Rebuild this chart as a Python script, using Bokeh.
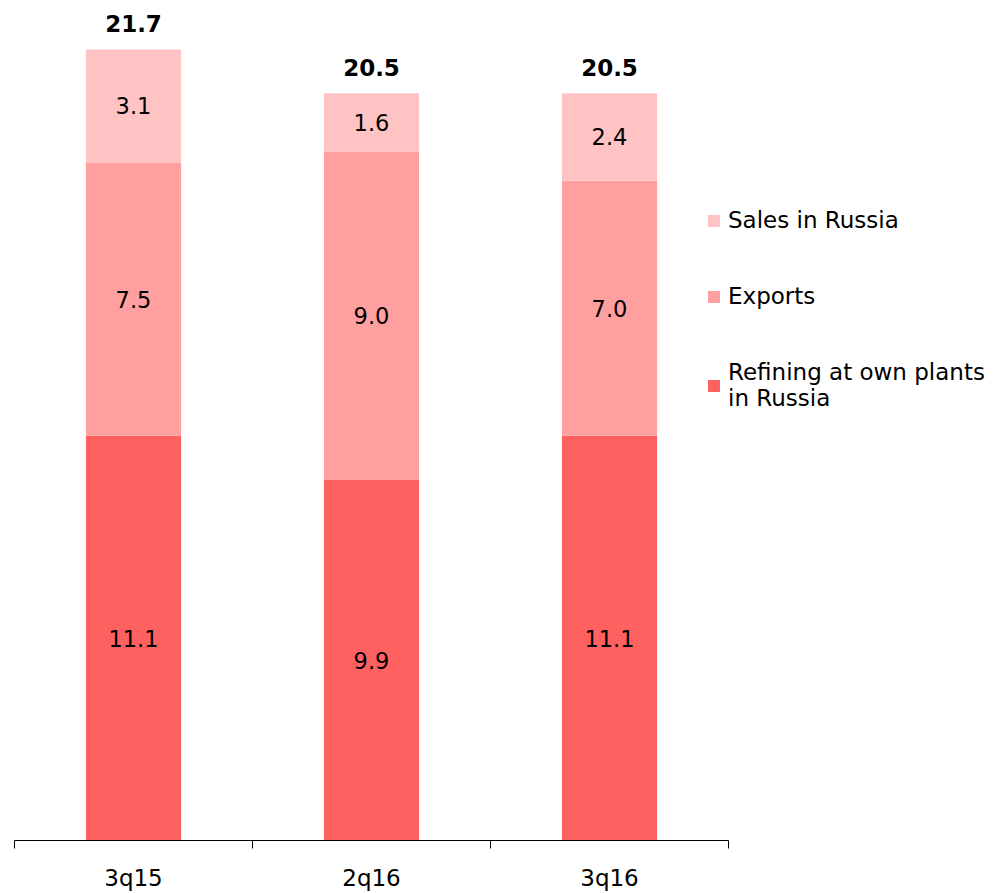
from bokeh.plotting import figure
from bokeh.models import ColumnDataSource, Range1d, FixedTicker, Legend, LegendItem, LinearAxis
from bokeh.core.properties import value
from bokeh.embed import file_html
from bokeh.resources import INLINE

categories = ["3q15", "2q16", "3q16"]
refining = [11.1, 9.9, 11.1]
exports = [7.5, 9.0, 7.0]
sales = [3.1, 1.6, 2.4]
totals = [21.7, 20.5, 20.5]
legend_labels = ["Sales in Russia", "Exports", "Refining at own plants\nin Russia"]
colors = {"refining": "#FF6161", "exports": "#FF9F9F", "sales": "#FFC3C3"}

FONT = "DejaVu Sans"
xs = [i + 0.5 for i in range(len(categories))]

b1 = [0.0] * 3
t1 = refining
b2 = t1
t2 = [a + b for a, b in zip(t1, exports)]
b3 = t2
t3 = [a + b for a, b in zip(t2, sales)]

src = ColumnDataSource(dict(
    x=xs, b1=b1, t1=t1, b2=b2, t2=t2, b3=b3, t3=t3,
    m1=[(a + b) / 2 for a, b in zip(b1, t1)],
    m2=[(a + b) / 2 for a, b in zip(b2, t2)],
    m3=[(a + b) / 2 for a, b in zip(b3, t3)],
    l1=[f"{v:.1f}" for v in refining],
    l2=[f"{v:.1f}" for v in exports],
    l3=[f"{v:.1f}" for v in sales],
    tot=totals,
    ltot=[f"{v:.1f}" for v in totals],
))

p = figure(width=995, height=893, x_range=Range1d(0, 981 / 238), y_range=Range1d(0, 841 / 36.5),
           output_backend="svg", toolbar_location=None,
           x_axis_location=None, y_axis_location=None,
           min_border_left=14, min_border_right=0, min_border_top=0, min_border_bottom=40)
p.outline_line_color = None
p.xgrid.visible = False
p.ygrid.visible = False
p.background_fill_color = "white"
p.border_fill_color = "white"

r1 = p.vbar(x="x", bottom="b1", top="t1", width=0.4, source=src, fill_color=colors["refining"], line_color=None)
r2 = p.vbar(x="x", bottom="b2", top="t2", width=0.4, source=src, fill_color=colors["exports"], line_color=None)
r3 = p.vbar(x="x", bottom="b3", top="t3", width=0.4, source=src, fill_color=colors["sales"], line_color=None)

for mid, lab in (("m1", "l1"), ("m2", "l2"), ("m3", "l3")):
    p.text(x="x", y=mid, text=lab, source=src, text_align="center", text_baseline="middle",
           text_font=value(FONT), text_font_size="22.5px", text_color="black")

p.text(x="x", y="tot", text="ltot", source=src, text_align="center", text_baseline="middle",
       y_offset=-26, text_font=value(FONT), text_font_size="23px", text_font_style="bold",
       text_color="black")

xaxis = LinearAxis(
    ticker=FixedTicker(ticks=xs, minor_ticks=[0, 1, 2, 3]),
    bounds=(0, 3),
    major_label_overrides={xv: c for xv, c in zip(xs, categories)},
    major_tick_out=0, major_tick_in=0,
    minor_tick_out=8, minor_tick_in=0,
    axis_line_color="black", axis_line_width=1,
    minor_tick_line_color="black", minor_tick_line_width=1,
    major_label_standoff=16,
    major_label_text_font=FONT, major_label_text_font_size="23px",
    major_label_text_color="black",
)
p.add_layout(xaxis, "below")

legend = Legend(
    items=[LegendItem(label=legend_labels[0], renderers=[r3]),
           LegendItem(label=legend_labels[1], renderers=[r2]),
           LegendItem(label=legend_labels[2], renderers=[r1])],
    location=(692, 429),
    glyph_width=15, glyph_height=15, label_standoff=7, spacing=50,
    padding=0, margin=0, border_line_color=None, background_fill_alpha=0,
    label_text_font=FONT, label_text_font_size="23px", label_text_color="black",
    label_text_line_height=1.35,
)
p.add_layout(legend, "center")

open("out.html", "w").write(file_html(p, INLINE))
